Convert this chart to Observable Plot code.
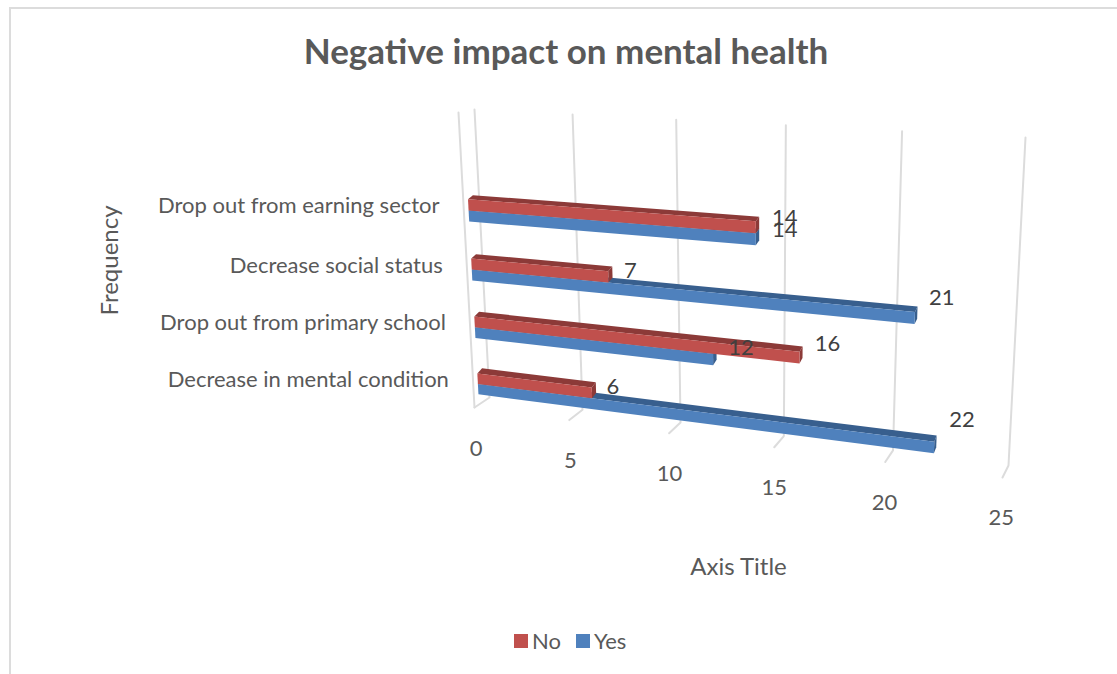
<!DOCTYPE html>
<html>
<head>
<meta charset="utf-8">
<script src="https://cdn.jsdelivr.net/npm/d3@7"></script>
<script src="https://cdn.jsdelivr.net/npm/@observablehq/plot@0.6"></script>
<style>
  html, body { margin: 0; padding: 0; background: #fff; }
  #chart { position: relative; width: 1117px; height: 674px; overflow: hidden; font-family: Lato, sans-serif; }
  #frame { position: absolute; left: 9px; top: 7px; right: -4px; bottom: -4px; border: 2px solid #dcdcdc; box-sizing: border-box; }
  #title { position: absolute; left: 0; top: 0; width: 1132px; height: 90px; line-height: 100px; text-align: center;
           font-size: 35px; font-weight: 700; color: #595959; }
  #plot { position: absolute; left: 0; top: 90px; }
  #legend { position: absolute; left: 514px; top: 624px; }
  #legend svg { margin-right: 4px !important; }
  #legend > div > * { margin-right: 15px !important; }
</style>
</head>
<body>
<div id="chart">
  <div id="frame"></div>
  <div id="title">Negative impact on mental health</div>
  <div id="plot"></div>
  <div id="legend"></div>
</div>
<script>
// Survey counts
const categories = ["Drop out from earning sector", "Decrease social status", "Drop out from primary school", "Decrease in mental condition"];
const noValues = [14, 7, 16, 6];
const yesValues = [14, 21, 12, 22];
const seriesNames = ["No", "Yes"];
const seriesColors = ["#c0504d", "#4f81bd"];
const shadeColors = { No: "#8c3a38", Yes: "#385f8e" };
const xTicks = [0, 5, 10, 15, 20, 25];

// Offsets of each value label from the end of its bar, in category order
const noNudge = [[29, -9], [22, -6], [28, -14], [21, -6]];
const yesNudge = [[29, -9], [27, -20], [28, -12], [28, -28]];

const plotTop = 90;
const barFront = 0.7, barBack = 0.38, barHalf = 0.0375, rearLift = 0.008;

// Perspective box: walls are quads, indexed by value (0-25), drop (0 top, 1 floor) and depth (0 back, 1 front)
function quad([x0, y0], [x1, y1], [x2, y2], [x3, y3]) {
  const dx1 = x1 - x2, dx2 = x3 - x2, dx3 = x0 - x1 + x2 - x3;
  const dy1 = y1 - y2, dy2 = y3 - y2, dy3 = y0 - y1 + y2 - y3;
  const det = dx1 * dy2 - dx2 * dy1;
  const g = (dx3 * dy2 - dx2 * dy3) / det, h = (dx1 * dy3 - dx3 * dy1) / det;
  const a = x1 - x0 + g * x1, b = x3 - x0 + h * x3, d = y1 - y0 + g * y1, e = y3 - y0 + h * y3;
  return (u, v) => {
    const w = g * u + h * v + 1;
    return [(a * u + b * v + x0) / w, (d * u + e * v + y0) / w];
  };
}
const backWall = quad([474, 109], [1025, 137], [1008, 465], [489, 397]);
const frontWall = quad([458, 112], [1018, 142], [1002, 477], [474, 407]);
const box = d3.geoTransform({
  point(value, drop, depth = barFront) {
    const [bx, by] = backWall(value / 25, drop);
    const [fx, fy] = frontWall(value / 25, drop);
    this.stream.point(bx + (fx - bx) * depth, by + (fy - by) * depth - plotTop);
  }
});

const rowCenter = d3.scalePoint().domain(categories).range([0.325, 0.926]);

// One record per bar, with the vertical extent of its front face
const bars = categories.flatMap((category, i) => [
  { series: "Yes", category, value: yesValues[i], top: rowCenter(category), bottom: rowCenter(category) + barHalf, nudge: yesNudge[i] },
  { series: "No", category, value: noValues[i], top: rowCenter(category) - barHalf, bottom: rowCenter(category), nudge: noNudge[i] }
]);

const polygon = (points) => ({ type: "Polygon", coordinates: [[...points, points[0]]] });
const frontFace = (b) => polygon([[0, b.top, barFront], [b.value, b.top, barFront], [b.value, b.bottom, barFront], [0, b.bottom, barFront]]);
const topFace = (b) => polygon([[0, b.top, barFront], [b.value, b.top, barFront], [b.value, b.top - rearLift, barBack], [0, b.top - rearLift, barBack]]);
const endFace = (b) => polygon([[b.value, b.top, barFront], [b.value, b.top - rearLift, barBack], [b.value, b.bottom - rearLift, barBack], [b.value, b.bottom, barFront]]);

const gridPath = (v) => ({ type: "LineString", coordinates: [[v, 0, 0], [v, 1, 0], [v, 1, 1]] });
const sideEdge = { type: "LineString", coordinates: [[0, 0, 1], [0, 1, 1]] };

const barMarks = (name) => {
  const data = bars.filter((b) => b.series === name);
  return [
    Plot.geo(data, { geometry: topFace, fill: { value: () => shadeColors[name], scale: null }, stroke: "none" }),
    Plot.geo(data, { geometry: endFace, fill: { value: () => shadeColors[name], scale: null }, stroke: "none" }),
    Plot.geo(data, { geometry: frontFace, fill: "series", stroke: "none" })
  ];
};

const chart = Plot.plot({
  width: 1117,
  height: 530,
  margin: 0,
  projection: box,
  color: { domain: seriesNames, range: seriesColors },
  style: { fontFamily: "Lato, sans-serif", background: "transparent" },
  marks: [
    Plot.geo(xTicks, { geometry: gridPath, stroke: "#dcdcdc", strokeWidth: 2 }),
    Plot.geo([sideEdge], { stroke: "#dcdcdc", strokeWidth: 2 }),
    ...barMarks("Yes"),
    ...barMarks("No"),
    Plot.text(xTicks, { x: (d) => d, y: () => 1, text: (d) => String(d), dx: -3, dy: 44, fontSize: 22, fill: "#595959" }),
    Plot.text(categories, { x: () => 0, y: (d) => rowCenter(d), text: (d) => d, textAnchor: "end", dx: -29, dy: -4, fontSize: 22, fill: "#595959" }),
    ...bars.map((b) => Plot.text([b], {
      x: "value",
      y: (d) => (d.top + d.bottom) / 2,
      text: (d) => String(d.value),
      dx: b.nudge[0],
      dy: b.nudge[1],
      fontSize: 22,
      fill: "#404040"
    })),
    Plot.text(["Axis Title"], { frameAnchor: "top-left", dx: 738, dy: 477, textAnchor: "middle", lineAnchor: "middle", fontSize: 24, fill: "#595959" }),
    Plot.text(["Frequency"], { frameAnchor: "top-left", dx: 110, dy: 170, rotate: -90, textAnchor: "middle", lineAnchor: "middle", fontSize: 24, fill: "#595959" })
  ]
});
document.getElementById("plot").append(chart);

document.getElementById("legend").append(Plot.legend({
  color: { domain: seriesNames, range: seriesColors },
  legend: "swatches",
  swatchSize: 14,
  style: { fontFamily: "Lato, sans-serif", fontSize: "22px", color: "#595959" }
}));
</script>
</body>
</html>
